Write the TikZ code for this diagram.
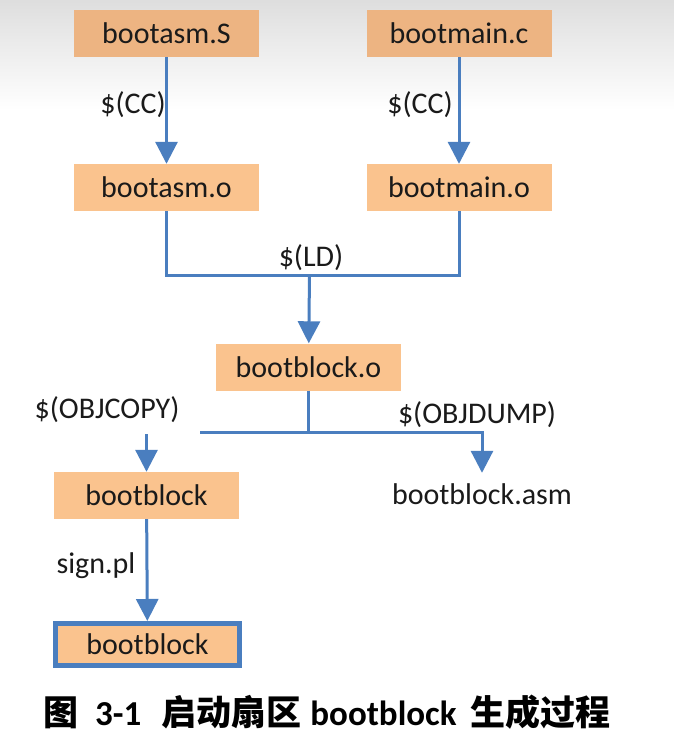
\documentclass[tikz,border=0pt]{standalone}
\usepackage{fontspec}
\setmainfont{Carlito}
\newfontfamily\cjk{Noto Sans CJK SC}
\usetikzlibrary{arrows.meta}
\definecolor{boxfill}{HTML}{FAC38E}
\definecolor{boxtop}{HTML}{EDB482}
\definecolor{arrowblue}{HTML}{4A7EBF}
\definecolor{txt}{HTML}{1A1A1A}
\begin{document}
\begin{tikzpicture}[x=1pt,y=-1pt,
  box/.style={fill=boxfill, minimum width=185pt, minimum height=47pt, inner sep=0pt,
    font=\fontsize{30}{30}\selectfont, text=txt},
  lbl/.style={font=\fontsize{30}{30}\selectfont, text=txt, inner sep=0pt},
  con/.style={draw=arrowblue, line width=3pt},
  arr/.style={con, -{Triangle[width=22pt,length=22pt]}},
]
\useasboundingbox (0,0) rectangle (674,740);
\fill[white] (0,0) rectangle (674,740);
\shade[top color=black!13, bottom color=white] (0,0) rectangle (674,110);

\node[box, fill=boxtop] (asmS) at (166.5,33.5) {bootasm.S};
\node[box, fill=boxtop] (mainc) at (459,33.5) {bootmain.c};
\node[box] (asmo) at (166.5,187.5) {bootasm.o};
\node[box] (maino) at (459,187.5) {bootmain.o};
\node[box] (bbo) at (308.5,367) {bootblock.o};
\node[box] (bb) at (146.5,495.5) {bootblock};
\node[box, draw=arrowblue, line width=5pt, minimum width=184pt, minimum height=42pt] (bbf) at (147.5,644.5) {bootblock};
\node[lbl, minimum height=42pt] (asm) at (482,494) {bootblock.asm};

\node[lbl] (cc1) at (133,105) {\$(CC)};
\node[lbl] (cc2) at (420,105) {\$(CC)};
\node[lbl] (ld) at (311,258) {\$(LD)};
\node[lbl] (ocl) at (107,410) {\$(OBJCOPY)};
\node[lbl] (odl) at (477,415) {\$(OBJDUMP)};
\node[lbl] (sign) at (96,566) {sign.pl};

\draw[arr] (asmS) -- (asmo);
\draw[arr] (mainc) -- (maino);
\coordinate (ldj) at (309.5,275);
\draw[con] (asmo.south) |- (ldj) -| (maino.south);
\draw[arr] (ldj) -- (bbo);
\coordinate (split) at (bbo.south |- 0,432);
\coordinate (hl) at (200,432);
\draw[con] (bbo) -- (split);
\draw[arr] (hl) -- (split) -| (asm.north);
\coordinate (oc) at (146.5,434);
\draw[arr] (oc) -- (bb);
\draw[arr] (bb) -- (bbf);

\node[anchor=west, inner sep=0pt, font=\bfseries\fontsize{35}{35}\selectfont, text=black] (cap) at (43,712)
  {{\cjk\bfseries 图}\hspace{17pt}3-1\hspace{20pt}{\cjk\bfseries 启动扇区}\hspace{9pt}bootblock\hspace{14pt}{\cjk\bfseries 生成过程}};
\end{tikzpicture}
\end{document}
